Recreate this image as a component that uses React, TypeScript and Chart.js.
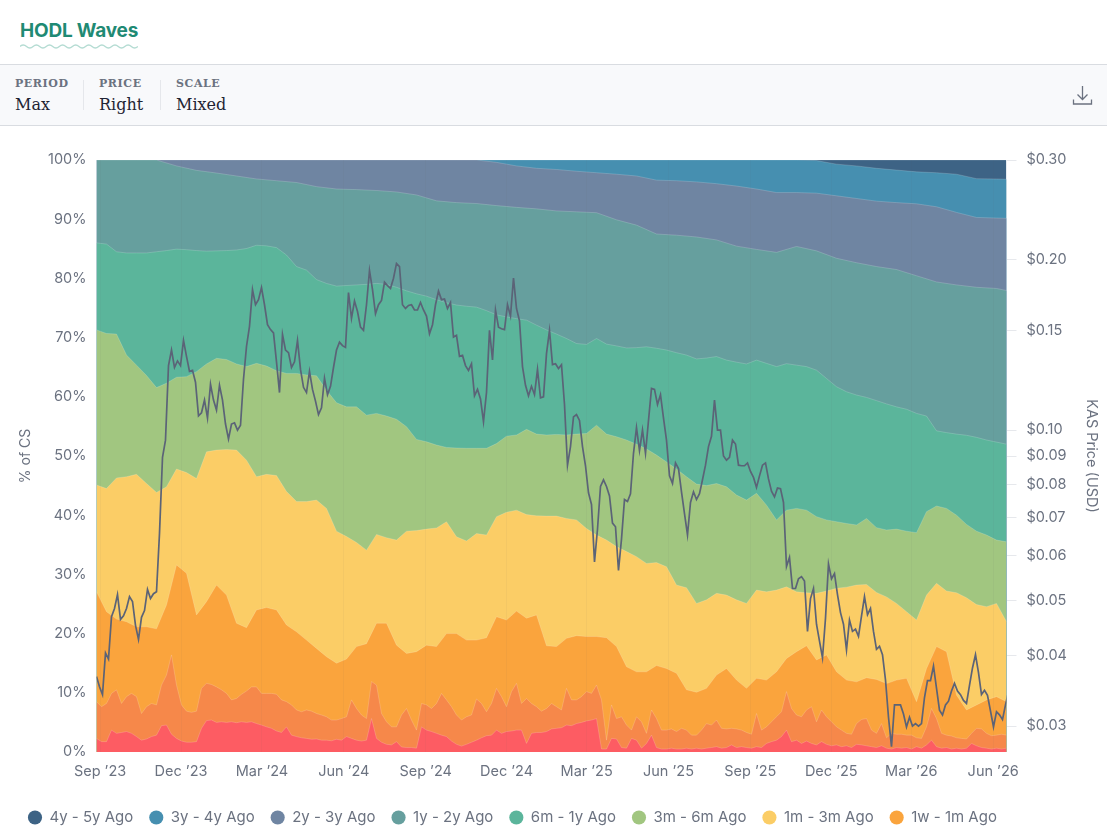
import React, { useEffect, useRef } from "react";
import { Chart, registerables } from "chart.js";

Chart.register(...registerables);

const AXIS_FONT = "Inter, 'Noto Sans', sans-serif";
const SERIF = "'DejaVu Serif', serif";

// x unit: days since 28 Aug 2023
const DAY_MAX = 1023;
const STEP_PRICE = 3.3725;
const STEP_FINE = 5.621;
const STEP_MID = 11.242;
const STEP_WIDE = 22.484;

const tickDays = [4, 95, 186, 278, 370, 461, 551, 643, 735, 826, 916, 1008];
const tickLabels = ["Sep ’23", "Dec ’23", "Mar ’24", "Jun ’24", "Sep ’24", "Dec ’24", "Mar ’25", "Jun ’25", "Sep ’25", "Dec ’25", "Mar ’26", "Jun ’26"];
const priceTicks = [0.03, 0.04, 0.05, 0.06, 0.07, 0.08, 0.09, 0.1, 0.15, 0.2, 0.3];
const percentTicks = [0, 10, 20, 30, 40, 50, 60, 70, 80, 90, 100];

const bandNames = ["4y - 5y Ago", "3y - 4y Ago", "2y - 3y Ago", "1y - 2y Ago", "6m - 1y Ago", "3m - 6m Ago", "1m - 3m Ago", "1w - 1m Ago", "1d - 1w Ago", "< 1d Ago"];
const bandColors = ["#3d6385", "#468fb0", "#6f85a2", "#669f9e", "#5bb59b", "#a1c680", "#fbcd66", "#faa43d", "#f6884a", "#fd5c63"];
const LEGEND_VISIBLE = 8;

// Upper edge of each band, in % of circulating supply
const top4y5y = [100, 100];
const top3y4y = [100, 100, 100, 100, 100, 100, 100, 100, 100, 100, 100, 100, 100, 100, 100, 100, 100, 100, 100, 100, 100, 100, 100, 100, 100, 100, 100, 100, 100, 100, 100, 100, 100, 100, 100, 100,
  99.9, 99.3, 99.0, 98.6, 98.3, 98.0, 97.85, 97.6, 96.85, 96.8, 96.7];
const top2y3y = [100, 100, 100, 100, 100, 100, 100, 100, 100, 100, 100, 100, 100, 100, 100, 100, 100, 100, 100, 100,
  99.6, 99.0, 98.6, 98.4, 98.1, 97.85, 97.6, 97.3, 96.6, 96.5, 96.3, 96.0, 95.6, 95.1, 94.5, 94.5, 94.4, 93.95, 93.5, 93.05, 92.8, 92.6, 92.1, 91.15, 90.3, 90.2, 90.1];
const top1y2y = [100, 100, 100, 100, 99.0, 98.25, 97.8, 97.3, 96.8, 96.5, 96.2, 95.5, 95.1, 95.0, 94.85, 94.6, 94.1, 93.1, 92.8, 92.65, 92.3, 92.0, 91.75, 91.4, 91.25, 91.1, 89.9, 89.0, 87.5, 87.3, 87.0,
  86.5, 85.45, 84.9, 84.4, 85.4, 84.65, 83.4, 82.65, 82.0, 81.5, 80.45, 79.4, 78.9, 78.5, 78.3, 77.6];
const top6m1y = [86.0, 85.8, 84.5, 84.3, 84.3, 84.3, 84.5, 84.7, 84.95, 84.85, 84.7, 84.6, 84.65, 84.7, 84.8, 85.05, 85.6, 85.5, 85.2, 83.95, 82.0, 81.4, 79.8, 79.15, 78.7, 78.8, 78.9, 79.0, 79.15, 79.0, 78.5,
  77.9, 77.4, 77.0, 76.4, 75.9, 75.5, 75.3, 75.15, 74.55, 73.85, 73.5, 73.2, 72.95, 72.1, 71.3, 70.6, 69.85, 69.0, 68.85, 69.85, 68.9, 68.6, 68.25, 68.3, 68.45, 68.2, 67.9, 67.45, 67.05, 66.4, 66.55,
  66.8, 66.2, 65.85, 65.55, 66.2, 65.65, 65.1, 65.6, 65.35, 65.1, 64.5, 63.1, 61.7, 60.85, 60.3, 59.9, 59.35, 58.8, 58.3, 57.9, 57.2, 56.75, 54.25, 53.95, 53.7, 53.5, 53.15, 52.7, 52.35, 52.0];
const top3m6m = [71.3, 70.7, 70.6, 67.05, 65.35, 63.6, 61.55, 62.3, 63.3, 63.4, 64.25, 65.55, 66.5, 66.3, 65.55, 65.1, 65.65, 65.2, 64.4, 63.95, 63.95, 63.7, 63.55, 61.1, 59.0, 58.3, 58.3, 56.9, 57.2, 56.75, 56.2,
  54.95, 52.8, 52.4, 51.85, 51.45, 51.35, 51.3, 51.3, 51.3, 52.1, 53.35, 53.55, 54.5, 53.7, 53.55, 53.65, 53.55, 53.7, 53.8, 55.2, 53.7, 53.25, 52.7, 52.0, 51.2, 50.15, 49.0, 47.8, 46.5, 45.25, 45.0,
  45.35, 44.8, 43.4, 42.55, 43.7, 41.7, 39.2, 40.85, 41.15, 40.85, 39.75, 39.2, 38.9, 38.6, 38.35, 39.45, 37.9, 37.5, 37.65, 37.3, 37.05, 40.6, 41.55, 41.15, 40.0, 38.45, 37.3, 36.65, 35.8, 35.5];
const top1m3m = [45.1, 44.5, 46.3, 46.5, 46.9, 45.35, 43.85, 44.8, 47.8, 47.2, 46.2, 50.7, 51.0, 51.1, 51.0, 49.3, 46.5, 46.9, 46.7, 44.0, 42.3, 42.3, 42.55, 41.15, 37.3, 36.4, 35.4, 34.1, 36.75, 36.2, 35.8,
  37.3, 37.4, 37.65, 37.85, 38.9, 36.35, 35.65, 36.9, 36.65, 39.75, 40.5, 40.85, 40.1, 39.9, 39.85, 39.85, 39.45, 39.2, 37.75, 36.65, 35.8, 34.7, 33.85, 33.0, 31.85, 32.0, 31.3, 28.2, 27.75, 25.1, 25.7,
  26.8, 26.5, 25.7, 25.1, 27.35, 27.05, 27.35, 27.9, 27.05, 26.9, 26.8, 27.2, 27.65, 27.85, 28.2, 28.3, 26.95, 26.2, 25.1, 23.7, 22.3, 26.5, 28.5, 27.2, 26.9, 26.05, 24.9, 24.55, 25.1, 22.0];
const top1w1m = [27.05, 23.7, 22.45, 22.0, 21.15, 21.15, 20.8, 24.85, 31.6, 30.2, 23.15, 25.4, 28.2, 26.5, 21.75, 21.0, 24.0, 24.4, 24.0, 21.45, 20.3, 18.9, 17.5, 16.1, 15.0, 15.7, 17.8, 18.3, 21.75, 21.75, 18.05,
  16.65, 16.95, 18.05, 17.8, 20.0, 20.0, 18.9, 18.9, 19.3, 22.85, 22.3, 23.8, 22.6, 23.15, 17.95, 17.8, 19.2, 19.65, 19.5, 19.5, 19.3, 17.8, 14.4, 13.55, 13.55, 14.6, 14.1, 13.3, 10.5, 10.1, 10.75,
  13.0, 14.1, 12.15, 10.75, 12.45, 12.15, 13.55, 15.8, 16.95, 17.95, 15.55, 16.4, 13.55, 12.15, 11.85, 12.55, 12.25, 11.55, 12.15, 12.45, 8.5, 14.1, 17.8, 16.95, 9.6, 7.1, 7.95, 8.8, 9.35, 8.5];
const top1d1w = [8.5, 7.65, 8.2, 9.9, 10.5, 8.2, 9.35, 9.9, 9.35, 6.5, 7.65, 8.2, 7.95, 11.3, 13.0, 16.4, 11.3, 7.95, 6.9, 6.7, 6.9, 10.75, 11.6, 11.4, 11.0, 10.5, 9.9, 8.8, 9.05, 9.75, 10.3, 11.0, 11.0, 9.9, 9.9, 9.9, 9.75, 8.8, 8.5, 7.95, 7.1, 6.8, 7.1, 6.9, 6.5, 6.25, 5.95, 5.4, 5.4, 5.65, 5.95, 8.8, 7.35, 6.25, 5.65, 11.9, 11.3, 6.5, 5.1, 4.25, 4.25,
  6.25, 7.35, 5.4, 3.7, 8.2, 7.95, 7.35, 8.2, 9.9, 8.8, 7.65, 6.25, 5.4, 5.95, 6.25, 8.95, 8.2, 6.8, 8.2, 10.75, 9.35, 7.65, 10.2, 11.6, 8.2, 9.05, 8.2, 7.65, 6.9, 7.35, 8.2, 7.65, 7.1, 10.75, 8.8, 8.8, 9.35, 10.2, 9.9, 11.3, 8.8, 2.0, 7.95, 5.65, 5.95, 4.55, 3.7, 5.95, 5.1, 3.15, 7.1, 5.65, 3.7, 3.7, 3.9, 3.45, 4.0, 3.7, 2.85, 2.85, 3.7, 4.8,
  4.55, 5.4, 4.0, 3.9, 4.0, 3.9, 3.7, 3.3, 3.0, 6.5, 3.7, 4.25, 5.1, 5.95, 6.8, 10.2, 7.35, 6.25, 5.95, 7.1, 7.65, 5.1, 7.1, 5.95, 5.1, 4.25, 3.7, 3.15, 3.0, 4.8, 5.5, 5.65, 3.7, 3.15, 4.8, 2.4, 3.15, 3.0, 3.0, 2.85, 2.85, 2.4, 2.3, 4.25, 7.35, 5.65, 3.15, 2.85, 2.7, 2.4, 2.3, 2.2, 3.15, 4.0, 3.9, 3.15, 2.75, 2.85, 3.0, 2.85];
const topUnder1d = [2.3, 1.75, 1.75, 3.7, 3.15, 3.3, 3.45, 3.15, 2.6, 2.0, 2.2, 2.6, 2.85, 4.45, 4.55, 3.0, 2.3, 1.85, 1.65, 1.65, 1.75, 4.0, 5.3, 5.4, 5.0, 5.1, 5.0, 5.1, 4.95, 5.1, 5.0, 5.1, 4.8, 4.55, 4.25, 4.0, 3.55, 3.3, 4.25, 2.85, 2.6, 2.4, 2.3, 2.15, 2.2, 2.0, 2.0, 1.9, 2.15, 2.0, 2.6, 2.3, 2.0, 1.85, 2.0, 5.65, 2.3, 1.65, 1.3, 1.2, 1.75,
  0.85, 0.75, 0.75, 0.65, 4.25, 3.7, 3.45, 3.15, 2.85, 2.6, 1.85, 1.3, 1.0, 1.3, 1.65, 2.0, 2.4, 2.75, 2.85, 3.7, 3.15, 3.45, 3.55, 3.7, 3.7, 1.45, 3.15, 3.3, 3.3, 3.45, 3.9, 4.0, 4.1, 4.55, 4.45, 4.8, 5.0, 5.25, 5.4, 5.65, 0.5, 0.5, 2.3, 2.2, 0.75, 0.65, 2.3, 2.0, 0.65, 1.45, 2.85, 0.75, 0.5, 0.5, 0.65, 0.5, 0.5, 0.65, 0.5, 0.65, 0.5, 0.65,
  0.75, 0.9, 0.65, 0.75, 1.2, 0.75, 0.9, 0.75, 0.65, 0.9, 0.75, 1.45, 1.75, 2.0, 2.6, 3.7, 1.75, 2.0, 1.45, 1.85, 1.45, 1.2, 1.75, 1.3, 1.05, 1.2, 0.9, 1.05, 0.75, 1.3, 1.2, 1.05, 0.9, 0.75, 1.05, 0.65, 0.5, 0.75, 0.65, 0.75, 0.5, 0.9, 0.65, 1.2, 2.0, 0.9, 0.65, 0.75, 0.5, 0.65, 0.5, 0.65, 1.45, 1.05, 0.75, 0.65, 0.5, 0.65, 0.5, 0.65];

const kasPrice = [0.0367, 0.0352, 0.0341, 0.0404, 0.0394, 0.0468, 0.0484, 0.0512, 0.0463, 0.047, 0.0484, 0.0508, 0.0498, 0.0452, 0.0427, 0.0467, 0.048, 0.0523, 0.0504, 0.0514, 0.0518, 0.0657, 0.0895, 0.096, 0.13, 0.1385, 0.129, 0.1325, 0.13, 0.144, 0.135, 0.127, 0.1275, 0.1215, 0.106, 0.1073, 0.113, 0.105, 0.1205, 0.113, 0.1085, 0.12, 0.113, 0.1025, 0.0965, 0.1025, 0.103, 0.1, 0.102, 0.123,
  0.1405, 0.1525, 0.177, 0.1665, 0.17, 0.1785, 0.1665, 0.1535, 0.1505, 0.1485, 0.132, 0.1165, 0.1475, 0.1385, 0.137, 0.129, 0.132, 0.144, 0.128, 0.119, 0.1165, 0.127, 0.118, 0.1125, 0.1065, 0.1095, 0.1235, 0.1155, 0.1195, 0.129, 0.1385, 0.143, 0.141, 0.14, 0.175, 0.1575, 0.169, 0.162, 0.152, 0.15, 0.1665, 0.1914, 0.177, 0.1605, 0.1665, 0.1695, 0.1825, 0.18, 0.178, 0.1855, 0.197, 0.1945,
  0.1665, 0.164, 0.166, 0.1665, 0.163, 0.163, 0.168, 0.163, 0.159, 0.148, 0.1535, 0.1665, 0.176, 0.17, 0.1705, 0.164, 0.168, 0.146, 0.147, 0.135, 0.1355, 0.13, 0.1275, 0.131, 0.115, 0.118, 0.1135, 0.1035, 0.1165, 0.15, 0.133, 0.163, 0.152, 0.151, 0.1505, 0.1665, 0.159, 0.1855, 0.164, 0.156, 0.1295, 0.12, 0.115, 0.1195, 0.1155, 0.128, 0.114, 0.1145, 0.1365, 0.15, 0.1305, 0.131, 0.1285, 0.1305, 0.111,
  0.0867, 0.0935, 0.1055, 0.1065, 0.104, 0.0935, 0.0865, 0.0775, 0.0739, 0.0585, 0.0668, 0.0795, 0.0817, 0.0795, 0.0765, 0.0685, 0.0675, 0.0565, 0.0642, 0.0754, 0.0748, 0.0772, 0.091, 0.101, 0.092, 0.1, 0.091, 0.104, 0.1185, 0.118, 0.111, 0.1155, 0.105, 0.096, 0.083, 0.0805, 0.0875, 0.0855, 0.0778, 0.0712, 0.0653, 0.0745, 0.0778, 0.0754, 0.0772, 0.0817, 0.0867, 0.0935,
  0.0975, 0.113, 0.1, 0.1, 0.09, 0.0885, 0.0895, 0.096, 0.0945, 0.0867, 0.0865, 0.0865, 0.0875, 0.0845, 0.0825, 0.0792, 0.083, 0.0867, 0.0875, 0.082, 0.078, 0.0762, 0.079, 0.0788, 0.0745, 0.0574, 0.0596, 0.0525, 0.0525, 0.0546, 0.0551, 0.0541, 0.0441, 0.0504, 0.0525, 0.0454, 0.0424, 0.0396, 0.0465, 0.058, 0.0546, 0.0558, 0.0512, 0.0476, 0.0454, 0.0409, 0.0462, 0.0441, 0.0445, 0.0432,
  0.0469, 0.0508, 0.0472, 0.0484, 0.0441, 0.041, 0.0415, 0.0401, 0.0362, 0.0311, 0.0276, 0.0327, 0.0327, 0.0327, 0.0315, 0.0299, 0.0311, 0.03, 0.0303, 0.03, 0.0303, 0.0337, 0.0361, 0.0361, 0.0383, 0.035, 0.032, 0.0314, 0.0327, 0.0332, 0.0346, 0.0357, 0.0346, 0.0341, 0.0333, 0.0329, 0.0354, 0.038, 0.0401, 0.0373, 0.0341, 0.0347, 0.034, 0.0319, 0.0299, 0.0318, 0.0314, 0.0308, 0.0327, 0.0345];

const bandData: { values: number[]; step: number }[] = [
  { values: top4y5y, step: DAY_MAX },
  { values: top3y4y, step: STEP_WIDE },
  { values: top2y3y, step: STEP_WIDE },
  { values: top1y2y, step: STEP_WIDE },
  { values: top6m1y, step: STEP_MID },
  { values: top3m6m, step: STEP_MID },
  { values: top1m3m, step: STEP_MID },
  { values: top1w1m, step: STEP_MID },
  { values: top1d1w, step: STEP_FINE },
  { values: topUnder1d, step: STEP_FINE },
];

const TEXT = "#6b7280";

const wavePath = () => {
  let d = "M0 3.5";
  for (let i = 0; i < 9; i++) {
    const x = i * 13.1;
    d += ` Q${x + 3.3} 0.5 ${x + 6.55} 3.5 Q${x + 9.8} 6.5 ${x + 13.1} 3.5`;
  }
  return d;
};

function Stat({ x, label, value }: { x: number; label: string; value: string }) {
  return (
    <>
      <div style={{ position: "absolute", left: x, top: 77, font: `700 11px ${SERIF}`, letterSpacing: "0.6px", color: "#6b7280", lineHeight: "14px" }}>{label}</div>
      <div style={{ position: "absolute", left: x, top: 94, font: `400 16px ${SERIF}`, color: "#1f2433", lineHeight: "22px" }}>{value}</div>
    </>
  );
}

export default function App() {
  const ref = useRef<HTMLCanvasElement | null>(null);
  useEffect(() => {
    const ctx = ref.current;
    if (!ctx) return;
    const bands = bandNames.map((name, idx) => ({
      type: "line" as const,
      label: name,
      data: bandData[idx].values.map((y, i) => ({ x: i * bandData[idx].step, y })),
      xAxisID: "x",
      yAxisID: "yPercent",
      borderColor: "rgba(255,255,255,0.22)",
      backgroundColor: bandColors[idx],
      borderWidth: 0.8,
      pointRadius: 0,
      fill: "origin",
      tension: 0,
      order: 100 - idx,
    }));
    const chart = new Chart(ctx, {
      type: "line",
      data: {
        datasets: [
          ...bands,
          {
            type: "line" as const,
            label: "KAS Price",
            data: kasPrice.map((y, i) => ({ x: i * STEP_PRICE, y })),
            xAxisID: "x",
            yAxisID: "yPrice",
            borderColor: "#5b6377",
            borderWidth: 1.7,
            pointRadius: 0,
            fill: false,
            tension: 0,
            order: 0,
          },
        ],
      },
      options: {
        animation: false,
        responsive: false,
        devicePixelRatio: 1,
        layout: { padding: { top: 32, bottom: 0, left: 12, right: 0 } },
        plugins: {
          tooltip: { enabled: false },
          legend: {
            position: "bottom",
            align: "start",
            labels: {
              usePointStyle: true,
              pointStyle: "circle",
              boxHeight: 10,
              boxWidth: 14,
              padding: 16,
              color: TEXT,
              font: { family: AXIS_FONT, size: 15 },
              generateLabels: () =>
                bandNames.slice(0, LEGEND_VISIBLE).map((text, i) => ({
                  text,
                  fillStyle: bandColors[i],
                  strokeStyle: bandColors[i],
                  lineWidth: 0,
                  fontColor: TEXT,
                  pointStyle: "circle",
                  datasetIndex: i,
                  hidden: false,
                })),
            },
          },
        },
        scales: {
          x: {
            type: "linear",
            min: 0,
            max: DAY_MAX,
            afterBuildTicks: (s: any) => {
              s.ticks = tickDays.map((value) => ({ value }));
            },
            afterFit: (s: any) => {
              s.height = 42;
            },
            ticks: {
              autoSkip: false,
              maxRotation: 0,
              color: TEXT,
              padding: 11,
              font: { family: AXIS_FONT, size: 14.5 },
              callback: (v: any) => tickLabels[tickDays.indexOf(Number(v))] ?? "",
            },
            grid: { drawOnChartArea: true, color: "rgba(90,90,90,0.05)", z: 1, drawTicks: false },
            border: { display: false },
          },
          yPercent: {
            type: "linear",
            position: "left",
            min: 0,
            max: 100,
            afterBuildTicks: (s: any) => {
              s.ticks = percentTicks.map((value) => ({ value }));
            },
            afterFit: (s: any) => {
              s.width = 84.5;
            },
            title: { display: true, text: "% of CS", color: TEXT, font: { family: AXIS_FONT, size: 14 }, padding: { top: 5, bottom: 0 } },
            ticks: {
              color: TEXT,
              padding: 0,
              font: { family: AXIS_FONT, size: 14.5 },
              callback: (v: any) => `${v}%`,
            },
            grid: { drawOnChartArea: false, drawTicks: true, tickLength: 10, tickColor: "transparent" },
            border: { display: false },
          },
          yPrice: {
            type: "logarithmic",
            position: "right",
            min: 0.027,
            max: 0.3,
            afterBuildTicks: (s: any) => {
              s.ticks = priceTicks.map((value) => ({ value }));
            },
            afterFit: (s: any) => {
              s.width = 100.5;
            },
            title: { display: true, text: "KAS Price (USD)", color: TEXT, font: { family: AXIS_FONT, size: 14.5 }, padding: { top: 7, bottom: 0 } },
            ticks: {
              autoSkip: false,
              color: TEXT,
              padding: 10,
              font: { family: AXIS_FONT, size: 14.5 },
              callback: (v: any) => `$${Number(v).toFixed(2)}`,
            },
            grid: { drawOnChartArea: false, drawTicks: true, tickLength: 10, tickColor: "#e6e8ec" },
            border: { display: false },
          },
        },
      },
    });
    return () => chart.destroy();
  }, []);

  return (
    <div style={{ position: "absolute", left: 0, top: 0, width: 1107, height: 827, overflow: "hidden", background: "#fff" }}>
      <div style={{ position: "absolute", left: 20, top: 18, font: `700 19px ${AXIS_FONT}`, letterSpacing: "-0.2px", color: "#1f8a74", lineHeight: "26px", whiteSpace: "nowrap" }}>HODL Waves</div>
      <svg style={{ position: "absolute", left: 20, top: 43 }} width="118" height="7">
        <path d={wavePath()} fill="none" stroke="#b5dcd3" strokeWidth="1.4" />
      </svg>
      <div style={{ position: "absolute", left: 0, top: 64, width: 1107, height: 62, boxSizing: "border-box", background: "#f8f9fb", borderTop: "1px solid #d9dce1", borderBottom: "1px solid #d9dce1" }} />
      <Stat x={15} label="PERIOD" value="Max" />
      <div style={{ position: "absolute", left: 83, top: 80, width: 1, height: 30, background: "#e5e7eb" }} />
      <Stat x={99} label="PRICE" value="Right" />
      <div style={{ position: "absolute", left: 160, top: 80, width: 1, height: 30, background: "#e5e7eb" }} />
      <Stat x={176} label="SCALE" value="Mixed" />
      <svg style={{ position: "absolute", left: 1072, top: 85 }} width="21" height="21" fill="none" stroke="#6b7280" strokeWidth="1.3">
        <path d="M10.5 1 V14 M5.5 9.5 L10.5 14.5 L15.5 9.5 M1.5 14.5 V19 H19.5 V14.5" />
      </svg>
      <canvas ref={ref} width={1107} height={707} style={{ position: "absolute", left: 0, top: 128, width: 1107, height: 707 }} />
    </div>
  );
}
